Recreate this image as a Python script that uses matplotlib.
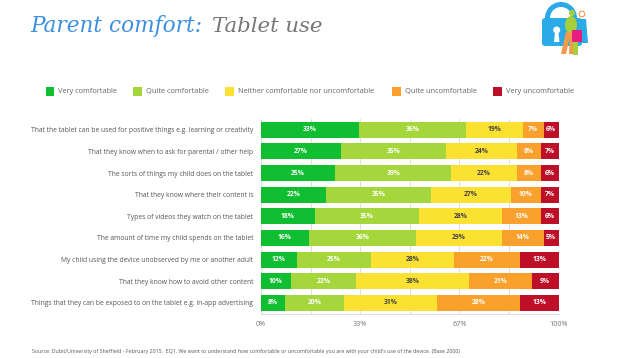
import matplotlib
matplotlib.use('Agg')
import matplotlib.pyplot as plt
from matplotlib.patches import Rectangle, Circle, Ellipse, Polygon, Wedge, FancyBboxPatch

plt.rcParams['font.family'] = ['Open Sans', 'DejaVu Sans']

questions = [
    "That the tablet can be used for positive things e.g. learning or creativity",
    "That they know when to ask for parental / other help",
    "The sorts of things my child does on the tablet",
    "That they know where their content is",
    "Types of videos they watch on the tablet",
    "The amount of time my child spends on the tablet",
    "My child using the device unobserved by me or another adult",
    "That they know how to avoid other content",
    "Things that they can be exposed to on the tablet e.g. in-app advertising",
]
very_comfortable = [33, 27, 25, 22, 18, 16, 12, 10, 8]
quite_comfortable = [36, 35, 39, 35, 35, 36, 25, 22, 20]
neither = [19, 24, 22, 27, 28, 29, 28, 38, 31]
quite_uncomfortable = [7, 8, 8, 10, 13, 14, 22, 21, 28]
very_uncomfortable = [6, 7, 6, 7, 6, 5, 13, 9, 13]

series_names = ["Very comfortable", "Quite comfortable",
                "Neither comfortable nor uncomfortable",
                "Quite uncomfortable", "Very uncomfortable"]
series = [very_comfortable, quite_comfortable, neither,
          quite_uncomfortable, very_uncomfortable]
colors = ["#10BE32", "#A5D73C", "#FAE132", "#FAA02D", "#BE0F28"]
label_colors = ["white", "white", "#444444", "white", "white"]
tick_values = [0, 100 / 6, 100 / 3, 50, 200 / 3, 500 / 6, 100]
tick_labels = ["0%", "", "33%", "", "67%", "", "100%"]

W, H = 622, 358
fig = plt.figure(figsize=(W / 100, H / 100), dpi=100)

# overlay in pixel coordinates for title, legend, icon, source
bg = fig.add_axes([0, 0, 1, 1])
bg.set_xlim(0, W)
bg.set_ylim(H, 0)
bg.axis('off')

# chart
ax = fig.add_axes([261 / W, 1 - 313.6 / H, 297.6 / W, 194.6 / H])
ypos = list(range(len(questions)))
left = [0] * len(questions)
for vals, c, lc in zip(series, colors, label_colors):
    ax.barh(ypos, vals, left=left, height=0.74, color=c, zorder=2)
    for y, l, v in zip(ypos, left, vals):
        # some rows add up to 101, the bar just gets cut at the axis edge
        mid = (l + min(l + v, 100)) / 2
        ax.text(mid, y, f"{v}%", ha='center', va='center', color=lc,
                fontsize=4.9, fontweight='bold', zorder=3)
    left = [a + b for a, b in zip(left, vals)]
ax.set_xlim(0, 100)
ax.set_ylim(len(questions) - 0.5, -0.5)
ax.set_xticks(tick_values)
ax.set_xticklabels(tick_labels, fontsize=5.2, color="#777777")
ax.set_yticks(ypos)
ax.set_yticklabels(questions, fontsize=4.85, color="#555555")
ax.tick_params(axis='both', length=0)
ax.tick_params(axis='x', pad=5)
ax.tick_params(axis='y', pad=5.5)
ax.grid(axis='x', color="#dddddd", linewidth=0.7, zorder=0)
for s in ['top', 'right', 'left']:
    ax.spines[s].set_visible(False)
ax.spines['bottom'].set_color("#dddddd")

# title
bg.text(30, 32, "Parent comfort:", fontsize=15.6, style='italic', family='DejaVu Serif',
        color="#3D8FE0", va='baseline')
bg.text(211.5, 32, "Tablet use", fontsize=15.3, style='italic', family='DejaVu Serif',
        color="#777777", va='baseline')

# legend
square_x = [45.6, 133, 225, 392, 493]
text_x = [58.3, 145.6, 237.7, 405, 506]
for sx, tx, name, c in zip(square_x, text_x, series_names, colors):
    bg.add_patch(Rectangle((sx, 87.3), 8.5, 8.4, color=c, lw=0))
    bg.text(tx, 91.5, name, fontsize=5.35, color="#666666", va='center')

# padlock and family icon
blue = "#2AAAE6"
bg.add_patch(Wedge((561, 18), 16, 180, 360, width=5, color=blue, lw=0))
bg.add_patch(FancyBboxPatch((544, 20), 36, 24, boxstyle="round,pad=2,rounding_size=3", color=blue, lw=0))
bg.add_patch(Circle((556.7, 30), 3.5, color="white", lw=0))
bg.add_patch(Polygon([(555.2, 31), (558.2, 31), (559.5, 42), (553.9, 42)], color="white", lw=0))
bg.add_patch(Circle((582, 14), 2.8, fill=False, ec="#F39A4A", lw=0.8))
bg.add_patch(Polygon([(578, 19), (586, 19), (588, 43), (578, 43)], color=blue, lw=0))
bg.add_patch(Circle((572, 13), 3, color="#A5CF3C", lw=0))
bg.add_patch(Ellipse((571, 25), 12, 18, color="#A5CF3C", lw=0))
bg.add_patch(Polygon([(566, 32), (571, 32), (566, 54), (561, 54)], color="#F39A4A", lw=0))
bg.add_patch(Polygon([(570, 32), (575, 32), (573, 54), (569, 54)], color="#F39A4A", lw=0))
bg.add_patch(Rectangle((573, 42), 5, 13, color="#A5CF3C", lw=0))
bg.add_patch(Rectangle((572, 30), 10, 12, color="#E61E82", lw=0))

# source line
bg.text(32, 351, "Source: Dubit/University of Sheffield - February 2015.  EQ1. We want to understand how "
        "comfortable or uncomfortable you are with your child's use of the device. (Base 2000)",
        fontsize=3.8, color="#555555", va='center')

plt.savefig("out.png", dpi=100)
